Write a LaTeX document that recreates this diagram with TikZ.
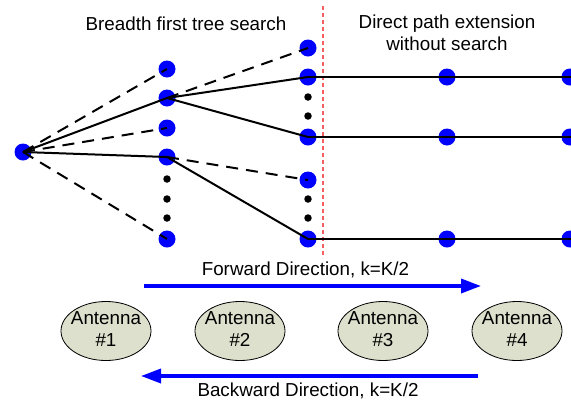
\documentclass[tikz,border=0pt]{standalone}
\usepackage{fontspec}
\setmainfont{Liberation Sans}
\usetikzlibrary{arrows.meta,shapes.geometric}
\definecolor{dotblue}{RGB}{0,0,255}
\definecolor{splitred}{RGB}{245,95,95}
\definecolor{antfill}{RGB}{221,224,204}

\begin{document}
\begin{tikzpicture}[x=1pt,y=-1pt,
  bdot/.style={circle,fill=dotblue,inner sep=0pt,minimum size=17pt},
  sdot/.style={circle,fill=black,inner sep=0pt,minimum size=7.5pt},
  survivor/.style={draw=black,line width=2pt},
  pruned/.style={draw=black,line width=2pt,dash pattern=on 12pt off 8pt},
  divider/.style={draw=splitred,line width=1.4pt,dash pattern=on 4pt off 3pt},
  txt/.style={font=\fontsize{18.8}{22}\selectfont,inner sep=0pt,align=center,text=black},
  antenna/.style={ellipse,draw=black,line width=0.8pt,fill=antfill,
    minimum width=90pt,minimum height=59pt,inner sep=0pt},
  dirarrow/.style={draw=dotblue,line width=3.5pt,-{Triangle[length=20pt,width=14pt]}}
]
\useasboundingbox (0,0) rectangle (571,400);
\clip (0,0) rectangle (571,400);

% split between tree search and direct extension
\coordinate (sTop) at (323,6);
\coordinate (sBot) at (323,258);
\draw[divider] (sTop) -- (sBot);

% root
\node[bdot] (r) at (23,152) {};
% first stage
\node[bdot] (a1) at (167,69) {};
\node[bdot] (a2) at (167,98) {};
\node[bdot] (a3) at (167,128) {};
\node[bdot] (a4) at (167,157) {};
\node[bdot] (a5) at (167,239) {};
\node[sdot] (ad1) at (167,179) {};
\node[sdot] (ad2) at (167,199) {};
\node[sdot] (ad3) at (167,218) {};
% second stage
\node[bdot] (b1) at (308,48) {};
\node[bdot] (b2) at (308,77) {};
\node[bdot] (b3) at (308,137) {};
\node[bdot] (b4) at (308,180) {};
\node[bdot] (b5) at (308,239) {};
\node[sdot] (bd1) at (308,97) {};
\node[sdot] (bd2) at (308,116) {};
\node[sdot] (bd3) at (308,199) {};
\node[sdot] (bd4) at (308,218) {};
% extended paths
\node[bdot] (c2) at (447,77) {};
\node[bdot] (c3) at (447,137) {};
\node[bdot] (c5) at (447,239) {};
\node[bdot] (d2) at (570,77) {};
\node[bdot] (d3) at (570,137) {};
\node[bdot] (d5) at (570,239) {};
\coordinate (e2) at (585,77);
\coordinate (e3) at (585,137);
\coordinate (e5) at (585,239);

% branches
\draw[pruned] (r.center) -- (a1.center);
\draw[survivor] (r.center) -- (a2.center);
\draw[pruned] (r.center) -- (a3.center);
\draw[survivor] (r.center) -- (a4.center);
\draw[pruned] (r.center) -- (a5.center);
\draw[pruned] (a2.center) -- (b1.center);
\draw[survivor] (a2.center) -- (b2.center);
\draw[survivor] (a2.center) -- (b3.center);
\draw[pruned] (a4.center) -- (b4.center);
\draw[survivor] (a4.center) -- (b5.center);
\draw[survivor] (b2.center) -- (c2.center) -- (d2.center) -- (e2);
\draw[survivor] (b3.center) -- (c3.center) -- (d3.center) -- (e3);
\draw[survivor] (b5.center) -- (c5.center) -- (d5.center) -- (e5);

% headings
\node[txt] (h1) at (186,24) {Breadth first tree search};
\node[txt] (h2) at (447,32.5) {Direct path extension\\without search};

% direction arrows
\coordinate (fS) at (144,286);
\coordinate (fE) at (481,286);
\draw[dirarrow] (fS) -- (fE);
\node[txt,anchor=base] (fl) at (305.5,275) {Forward Direction, k=K/2};

\coordinate (bS) at (478,376);
\coordinate (bE) at (141,376);
\draw[dirarrow] (bS) -- (bE);
\node[txt,anchor=base] (bl) at (308,396.5) {Backward Direction, k=K/2};

% antennas
\node[antenna] (ant1) at (106,331) {};
\node[antenna] (ant2) at (240,331) {};
\node[antenna] (ant3) at (383,331) {};
\node[antenna] (ant4) at (517,331) {};
\node[txt] (ant1t) at (106,329.5) {Antenna\\\#1};
\node[txt] (ant2t) at (240,329.5) {Antenna\\\#2};
\node[txt] (ant3t) at (383,329.5) {Antenna\\\#3};
\node[txt] (ant4t) at (517,329.5) {Antenna\\\#4};
\end{tikzpicture}
\end{document}
